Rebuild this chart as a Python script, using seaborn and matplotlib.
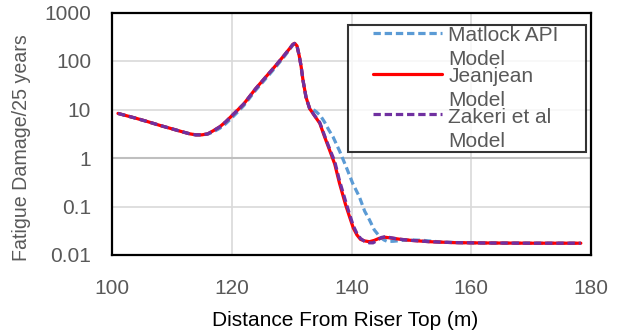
import numpy as np
import pandas as pd
import matplotlib
matplotlib.use("Agg")
import matplotlib.pyplot as plt
from matplotlib.legend_handler import HandlerLine2D
import seaborn as sns

# ---- data ----
jeanjean_x = [101, 102.5, 104, 106, 108, 110, 112, 113, 114, 115, 116, 117, 118, 119, 120, 121, 122,
              124, 126, 127.5, 128.8, 129.7, 130.2, 130.5, 130.9, 131.3, 131.6, 131.9, 132.4, 133.0,
              133.8, 134.7, 135.5, 136.3, 137.2, 138.0, 139.0, 139.7, 140.3, 140.9, 141.5, 142.2,
              143.0, 143.8, 144.6, 145.5, 146.5, 148, 150, 153, 157, 162, 170, 178.3]
jeanjean_y = [8.3, 7.4, 6.6, 5.6, 4.7, 4.0, 3.4, 3.15, 3.0, 3.0, 3.15, 3.7, 4.4, 5.6, 7.4, 9.8, 13,
              27, 52, 85, 133, 183, 220, 232, 205, 123, 75, 40, 18, 10.5,
              7.5, 5.2, 2.75, 1.5, 0.75, 0.30, 0.11, 0.06, 0.036, 0.026, 0.021, 0.0195,
              0.0188, 0.020, 0.022, 0.0233, 0.0225, 0.0212, 0.0200, 0.0188, 0.018, 0.0177, 0.0175, 0.0175]

zakeri_x = [101, 102.5, 104, 106, 108, 110, 112, 113, 114, 115, 116, 117, 118, 119, 120, 121, 122,
            124, 126, 127.5, 128.8, 129.7, 130.2, 130.5, 130.9, 131.3, 131.6, 131.9, 132.4, 133.0,
            133.8, 134.7, 135.5, 136.3, 137.2, 138.0, 139.0, 139.7, 140.3, 140.9, 141.5, 142.2,
            143.0, 143.6, 144.3, 145.0, 145.8, 146.5, 148, 150, 153, 157, 162, 170, 178.3]
zakeri_y = [8.3, 7.4, 6.6, 5.6, 4.7, 4.0, 3.4, 3.15, 3.0, 3.0, 3.15, 3.7, 4.4, 5.6, 7.4, 9.8, 13,
            27, 52, 85, 133, 183, 220, 230, 205, 123, 75, 40, 18, 10.6,
            7.6, 5.4, 2.9, 1.6, 0.85, 0.34, 0.13, 0.068, 0.04, 0.028, 0.022, 0.019,
            0.0178, 0.0178, 0.020, 0.023, 0.024, 0.0228, 0.0212, 0.0200, 0.0188, 0.018, 0.0177, 0.0175, 0.0175]

matlock_x = [101, 102.5, 104, 106, 108, 110, 112, 113, 114, 115, 116, 117, 118, 119, 120, 121, 122,
             124, 126, 127.5, 128.8, 129.7, 130.2, 130.5, 130.9, 131.3, 131.6, 131.9, 132.4, 133.0,
             133.5, 134.1, 134.8, 135.5, 136.2, 136.9, 138.0, 139.1, 140.2, 141.3, 142.2, 143.0,
             143.8, 144.7, 145.4, 146.0, 147, 148.5, 150, 152, 155, 158, 162, 170, 178.3]
matlock_y = [8.3, 7.4, 6.6, 5.6, 4.7, 4.0, 3.4, 3.15, 3.0, 3.0, 3.1, 3.5, 4.1, 5.1, 6.7, 8.9, 12,
             25, 48, 79, 125, 175, 212, 228, 200, 123, 75, 40, 18, 10.5,
             10.2, 9.0, 7.5, 5.5, 3.8, 2.75, 1.4, 0.66, 0.30, 0.16, 0.08, 0.053,
             0.033, 0.024, 0.0205, 0.019, 0.0192, 0.020, 0.0205, 0.020, 0.0185, 0.018, 0.0177, 0.0175, 0.0175]

models = ["Matlock API Model", "Jeanjean Model", "Zakeri et al Model"]
legend_labels = ["Matlock API\nModel", "Jeanjean\nModel", "Zakeri et al\nModel"]
colors = {"Matlock API Model": "#5B9BD5", "Jeanjean Model": "#FF0000", "Zakeri et al Model": "#7030A0"}
dash_map = {"Matlock API Model": (2.3, 1.2), "Jeanjean Model": "", "Zakeri et al Model": (2.3, 1.2)}

x_ticks = [100, 120, 140, 160, 180]
y_ticks = [0.01, 0.1, 1, 10, 100, 1000]
y_tick_labels = ["0.01", "0.1", "1", "10", "100", "1000"]

df = pd.concat([
    pd.DataFrame({"x": matlock_x, "y": matlock_y, "model": models[0]}),
    pd.DataFrame({"x": jeanjean_x, "y": jeanjean_y, "model": models[1]}),
    pd.DataFrame({"x": zakeri_x, "y": zakeri_y, "model": models[2]}),
], ignore_index=True)

sns.set_theme(style="white")
plt.rcParams["font.family"] = ["Liberation Sans", "DejaVu Sans"]

fig = plt.figure(figsize=(6.24, 3.34), dpi=100)
ax = fig.add_axes([112 / 624, 1 - 255 / 334, 479 / 624, 242.5 / 334])

sns.lineplot(data=df, x="x", y="y", hue="model", style="model", hue_order=models,
             style_order=models, palette=colors, dashes=dash_map, sort=False,
             estimator=None, linewidth=2.3, legend=False, ax=ax)

ax.set_yscale("log")
ax.set_ylim(0.01, 1000)
ax.set_xlim(100, 180)
ax.set_yticks(y_ticks)
ax.set_yticklabels(y_tick_labels)
ax.yaxis.set_minor_locator(matplotlib.ticker.NullLocator())
ax.set_xticks(x_ticks)

ax.grid(True, which="major", color="#D9D9D9", linewidth=1.2)
ax.axhline(1, color="#BFBFBF", linewidth=1.5, zorder=1)
ax.set_axisbelow(True)
for s in ax.spines.values():
    s.set_color("black")
    s.set_linewidth(1.6)
ax.tick_params(axis="both", length=0, labelsize=15, colors="#595959")
ax.tick_params(axis="y", pad=15)
ax.tick_params(axis="x", pad=17.5)

ax.set_xlabel("Distance From Riser Top (m)", fontsize=15, color="#000000")
ax.xaxis.set_label_coords(0.486, -0.231)
ax.set_ylabel("Fatigue Damage/25 years", fontsize=14.1, color="#595959")
ax.yaxis.set_label_coords(-0.169, 0.443)


class UpperLineHandler(HandlerLine2D):
    """Line handle aligned with the first line of a two-line label."""
    def __init__(self, dy, dx, **kw):
        super().__init__(**kw)
        self.dy = dy
        self.dx = dx

    def create_artists(self, legend, orig_handle, xdescent, ydescent, width, height,
                       fontsize, trans):
        arts = super().create_artists(legend, orig_handle, xdescent, ydescent, width,
                                      height, fontsize, trans)
        for a in arts:
            if hasattr(a, "get_ydata"):
                yd = np.asarray(a.get_ydata(), dtype=float)
                xd = np.asarray(a.get_xdata(), dtype=float)
                a.set_ydata(yd + self.dy)
                a.set_xdata(np.linspace(xd.min() + self.dx, xd.max(), len(xd)))
        return arts


handles = ax.get_lines()[:3]
hmap = {h: UpperLineHandler(dy=10.8, dx=17.3) for h in handles}
leg = ax.legend(handles, legend_labels, loc="upper left",
                bbox_to_anchor=(0.4927, 0.4289, 0.4969, 0.5196), mode="expand",
                borderaxespad=0, frameon=True, fancybox=False, fontsize=15,
                handlelength=4.47, labelspacing=-0.1, borderpad=0.05,
                handletextpad=0.3, labelcolor="#595959", handler_map=hmap)
for t in leg.get_texts():
    t.set_linespacing(1.33)
leg.get_frame().set_edgecolor("black")
leg.get_frame().set_linewidth(1.5)

fig.savefig("out.png", dpi=100)
